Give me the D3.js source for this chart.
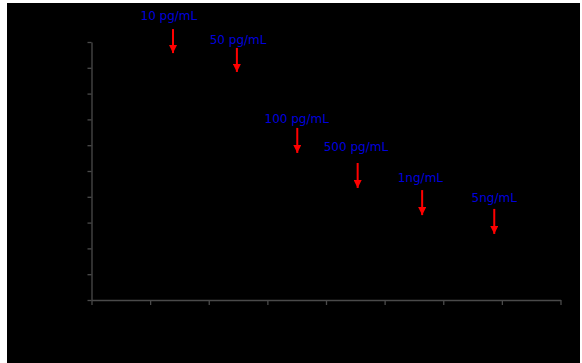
<!DOCTYPE html>
<html><head><meta charset="utf-8">
<script src="https://cdn.jsdelivr.net/npm/d3@7"></script>
<style>html,body{margin:0;padding:0;background:#fff;}svg{display:block;}</style>
</head><body>
<svg id="c" width="582" height="363"></svg>
<script>
// Annotation data (in chart units)
const labels = ["10 pg/mL", "50 pg/mL", "100 pg/mL", "500 pg/mL", "1ng/mL", "5ng/mL"];
const arrowX = [1.39, 2.48, 3.51, 4.54, 5.64, 6.87];
const arrowTop = [10.50, 9.77, 6.67, 5.31, 4.26, 3.53];
const arrowTip = [9.57, 8.84, 5.70, 4.34, 3.29, 2.56];
const labelX = [1.32, 2.50, 3.50, 4.51, 5.61, 6.87];
const labelY = [10.85, 9.92, 6.86, 5.78, 4.57, 3.80];
const xTicks = [0, 1, 2, 3, 4, 5, 6, 7, 8];
const yTicks = [0, 1, 2, 3, 4, 5, 6, 7, 8, 9, 10];

const svg = d3.select("#c");
svg.append("rect").attr("x", 7).attr("y", 3).attr("width", 573).attr("height", 360).attr("fill", "#000");

const x = d3.scaleLinear().domain([0, 8]).range([91.5, 560.5]);
const y = d3.scaleLinear().domain([0, 10]).range([300, 42]);
const axisColor = "#4a4a4a";

const gx = svg.append("g").attr("transform", "translate(0,300)")
  .call(d3.axisBottom(x).tickValues(xTicks).tickSize(5).tickSizeOuter(0).tickFormat(""));
const gy = svg.append("g").attr("transform", "translate(91.5,0)")
  .call(d3.axisLeft(y).tickValues(yTicks).tickSize(4).tickSizeOuter(0).tickFormat(""));
[gx, gy].forEach(g => {
  g.selectAll("path").attr("stroke", axisColor).attr("stroke-width", 1.3);
  g.selectAll("line").attr("stroke", axisColor).attr("stroke-width", 1.3);
});

const defs = svg.append("defs");
defs.append("marker").attr("id", "ah").attr("viewBox", "0 0 10 10")
  .attr("refX", 10).attr("refY", 5).attr("markerUnits", "userSpaceOnUse")
  .attr("markerWidth", 8).attr("markerHeight", 8).attr("orient", "auto")
  .append("path").attr("d", "M0,0L10,5L0,10Z").attr("fill", "#ff0000");

const idx = d3.range(labels.length);
svg.append("g").selectAll("line").data(idx).join("line")
  .attr("x1", i => x(arrowX[i])).attr("x2", i => x(arrowX[i]))
  .attr("y1", i => y(arrowTop[i])).attr("y2", i => y(arrowTip[i]))
  .attr("stroke", "#ff0000").attr("stroke-width", 2)
  .attr("marker-end", "url(#ah)");

svg.append("g").selectAll("text").data(idx).join("text")
  .attr("x", i => x(labelX[i])).attr("y", i => y(labelY[i]))
  .attr("text-anchor", "middle")
  .attr("font-family", "DejaVu Sans, Verdana, sans-serif")
  .attr("font-size", 12)
  .attr("fill", "#0000dd")
  .text(i => labels[i]);
</script>
</body></html>
